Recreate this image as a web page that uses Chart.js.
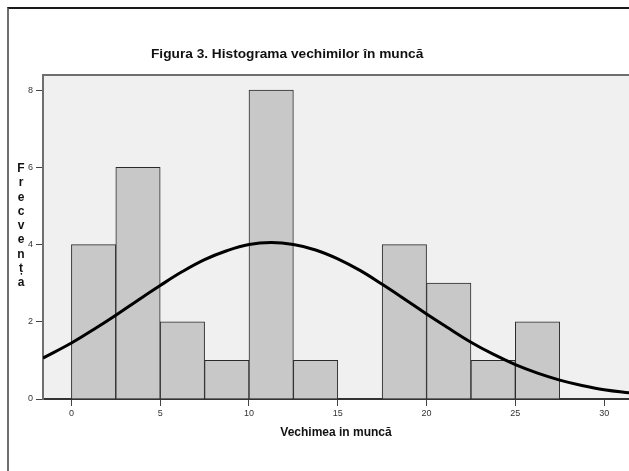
<!DOCTYPE html>
<html>
<head>
<meta charset="utf-8">
<script src="https://cdn.jsdelivr.net/npm/chart.js@4"></script>
<style>
  body { margin: 0; background: #fff; overflow: hidden; }
  #wrap { position: relative; width: 629px; height: 471px; }
  #frame { position: absolute; left: 7px; top: 7px; width: 700px; height: 500px;
           border-left: 2px solid #6e6e6e; border-top: 2px solid #1a1a1a; }
  #chart { position: absolute; left: 0; top: 0; }
  #ylabel { position: absolute; left: 14px; top: 161px; width: 14px; text-align: center;
            font: bold 12px "Liberation Sans", Arial, sans-serif; line-height: 14.25px; color: #111; }
</style>
</head>
<body>
<div id="wrap">
  <div id="frame"></div>
  <canvas id="chart" width="629" height="471"></canvas>
  <div id="ylabel">F<br>r<br>e<br>c<br>v<br>e<br>n<br>ț<br>a</div>
</div>
<script>
// Histogram bins (centre of each 2.5-wide bin) and counts
const binCenters = [1.25, 3.75, 6.25, 8.75, 11.25, 13.75, 18.75, 21.25, 23.75, 26.25];
const counts = [4, 6, 2, 1, 8, 1, 4, 3, 1, 2];

// Normal curve
const curveX = [-1.6, 0, 1.25, 2.5, 3.75, 5, 6.25, 7.5, 8.75, 10, 11.25, 12.5, 13.75, 15, 16.25,
                17.5, 18.75, 20, 21.25, 22.5, 23.75, 25, 26.25, 27.5, 28.75, 30, 31.6];
const curveY = [1.06, 1.45, 1.80, 2.17, 2.56, 2.94, 3.30, 3.61, 3.84, 4.00, 4.05, 4.00, 3.86, 3.63, 3.33,
                2.97, 2.59, 2.20, 1.83, 1.47, 1.16, 0.89, 0.67, 0.49, 0.35, 0.24, 0.15];

const xTicks = [0, 5, 10, 15, 20, 25, 30];
const yTicks = [0, 2, 4, 6, 8];

const FONT = '"Liberation Sans", Arial, sans-serif';

var plotBg = {
  id: 'plotBg',
  beforeDraw(chart) {
    const a = chart.chartArea, ctx = chart.ctx;
    ctx.save();
    ctx.fillStyle = '#f0f0f0';
    ctx.fillRect(a.left, a.top, a.right - a.left, a.bottom - a.top);
    ctx.strokeStyle = '#6e6e6e';
    ctx.lineWidth = 2;
    ctx.beginPath();
    ctx.moveTo(a.left, a.top);
    ctx.lineTo(a.right, a.top);
    ctx.stroke();
    ctx.restore();
  }
};

// shift the title so it sits where the original has it
var titleShift = {
  id: 'titleShift',
  afterLayout(chart) {
    if (chart.titleBlock) chart.titleBlock.left = 151;
  }
};

var ctx = document.getElementById('chart').getContext('2d');
var chart = new Chart(ctx, {
  data: {
    datasets: [{
      type: 'bar',
      data: binCenters.map((x, i) => ({ x: x, y: counts[i] })),
      backgroundColor: '#c8c8c8',
      borderColor: '#2a2a2a',
      borderWidth: 1,
      barPercentage: 1,
      categoryPercentage: 1,
      order: 2
    }, {
      type: 'line',
      data: curveX.map((x, i) => ({ x: x, y: curveY[i] })),
      borderColor: '#000',
      borderWidth: 3,
      pointRadius: 0,
      tension: 0.4,
      fill: false,
      order: 1
    }]
  },
  options: {
    responsive: false,
    animation: false,
    layout: { padding: 0 },
    scales: {
      x: {
        type: 'linear',
        offset: false,
        min: -1.6,
        max: 31.4,
        afterBuildTicks: s => { s.ticks = xTicks.map(v => ({ value: v })); },
        afterFit: s => { s.height = 72; },
        ticks: { color: '#333', font: { family: FONT, size: 9 }, padding: 2, maxRotation: 0 },
        grid: { display: true, offset: false, drawOnChartArea: false, drawTicks: true, tickLength: 7, color: '#444', lineWidth: 1 },
        border: { display: true, color: '#333', width: 2 },
        title: { display: true, text: 'Vechimea in muncă', color: '#111',
                 font: { family: FONT, size: 12, weight: 'bold' }, padding: { top: 0, bottom: 31 } }
      },
      y: {
        min: 0,
        max: 8.39,
        afterBuildTicks: s => { s.ticks = yTicks.map(v => ({ value: v })); },
        afterFit: s => { s.width = 43; },
        ticks: { color: '#333', font: { family: FONT, size: 9 }, padding: 3 },
        grid: { display: true, drawOnChartArea: false, drawTicks: true, tickLength: 7, color: '#444', lineWidth: 1 },
        border: { display: true, color: '#6e6e6e', width: 2 }
      }
    },
    plugins: {
      legend: { display: false },
      tooltip: { enabled: false },
      title: {
        display: true,
        text: 'Figura 3. Histograma vechimilor în muncă',
        align: 'start',
        color: '#111',
        font: { family: FONT, size: 13.7, weight: 'bold' },
        padding: { top: 46, bottom: 12.6 }
      }
    }
  },
  plugins: [plotBg, titleShift]
});
</script>
</body>
</html>
